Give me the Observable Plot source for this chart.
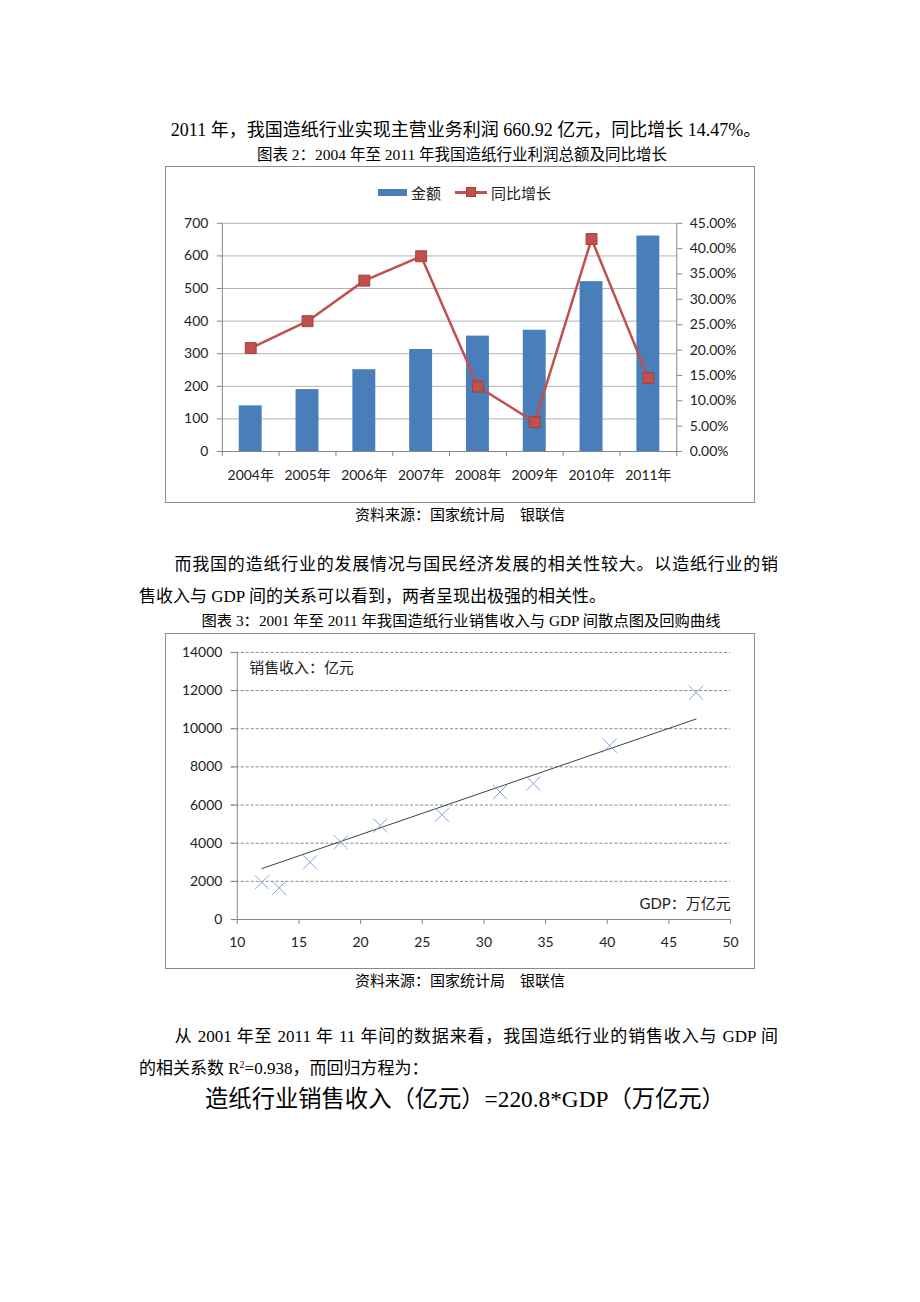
<!DOCTYPE html>
<html><head><meta charset="utf-8">
<script src="https://cdn.jsdelivr.net/npm/d3@7"></script>
<script src="https://cdn.jsdelivr.net/npm/@observablehq/plot@0.6"></script>
<style>
body{margin:0;background:#fff;width:920px;height:1302px;position:relative;overflow:hidden}
.t{position:absolute;white-space:nowrap;font-family:"Liberation Serif","Noto Sans CJK SC",serif;color:#000;line-height:1}
.j{white-space:normal;text-align:justify;text-align-last:justify;width:639px;left:139px}
.box{position:absolute;border:1px solid #8a8a8a;box-sizing:border-box;background:#fff}
.box svg{position:absolute;left:0;top:0}
.lg{position:absolute;font-family:"Noto Sans CJK SC",sans-serif;font-size:15px;line-height:1;color:#222}
sup{font-size:10px;vertical-align:6px;line-height:0}
</style></head>
<body>
<div class="t" style="left:0;width:932px;text-align:center;top:121px;font-size:18px">2011 年，我国造纸行业实现主营业务利润 660.92 亿元，同比增长 14.47%。</div>
<div class="t" style="left:0;width:924px;text-align:center;top:147px;font-size:15.5px">图表 2：2004 年至 2011 年我国造纸行业利润总额及同比增长</div>
<div class="box" id="box1" style="left:165px;top:166px;width:590px;height:337px"></div>
<div class="t" style="left:0;width:920px;text-align:center;top:508px;font-size:15px">资料来源：国家统计局　银联信</div>
<div class="t j" style="top:556px;font-size:17px">　　而我国的造纸行业的发展情况与国民经济发展的相关性较大。以造纸行业的销</div>
<div class="t" style="left:139px;top:588px;font-size:17px">售收入与 GDP 间的关系可以看到，两者呈现出极强的相关性。</div>
<div class="t" style="left:0;width:922px;text-align:center;top:613px;font-size:15.3px">图表 3：2001 年至 2011 年我国造纸行业销售收入与 GDP 间散点图及回购曲线</div>
<div class="box" id="box2" style="left:165px;top:633px;width:590px;height:336px"></div>
<div class="t" style="left:0;width:920px;text-align:center;top:974px;font-size:15px">资料来源：国家统计局　银联信</div>
<div class="t j" style="top:1028px;font-size:17px">　　从 2001 年至 2011 年 11 年间的数据来看，我国造纸行业的销售收入与 GDP 间</div>
<div class="t" style="left:139px;top:1060px;font-size:17px">的相关系数 R<sup>2</sup>=0.938，而回归方程为：</div>
<div class="t" style="left:6px;width:918px;text-align:center;top:1088px;font-size:23.3px">造纸行业销售收入（亿元）=220.8*GDP（万亿元）</div>
<script>
// ---- Chart 1 data ----
const years = ["2004年","2005年","2006年","2007年","2008年","2009年","2010年","2011年"];
const profit = [140, 190, 251, 313, 354, 372, 521, 661];
const growth = [20.4, 25.7, 33.7, 38.5, 12.8, 5.8, 41.9, 14.47];
const profitTicks = [0,100,200,300,400,500,600,700];
const growthTicks = [0,5,10,15,20,25,30,35,40,45];
const legend1 = ["金额","同比增长"];

// ---- Chart 2 data ----
const gdp = [12.0, 13.4, 15.9, 18.4, 21.6, 26.6, 31.3, 34.0, 40.2, 47.2];
const sales = [1950, 1660, 3000, 4050, 4930, 5490, 6680, 7130, 9120, 11890];
const trendGdp = [12.0, 47.2];
const trendSales = [2670, 10510];
const xTicks2 = [10,15,20,25,30,35,40,45,50];
const yTicks2 = [0,2000,4000,6000,8000,10000,12000,14000];
const yLabel2 = "销售收入：亿元";
const xLabel2 = "GDP：万亿元";

const AX = "#868686";
const GRID1 = "#B2B2B2";
const FONT = 'Lato,"Noto Sans CJK SC",sans-serif';

// Chart 1
const data1 = years.map((y,i)=>({year:y, profit:profit[i], growth:growth[i]}));
const W1 = 590, H1 = 337;
const M1 = {marginTop:56, marginRight:78, marginBottom:52, marginLeft:56};
const step1 = (W1 - M1.marginLeft - M1.marginRight) / years.length;
const xBand = {type:"band", domain:years, paddingInner:0.6, paddingOuter:0.3, align:0.5, label:null};

const p1 = Plot.plot({
  width:W1, height:H1, ...M1,
  style:{fontFamily:FONT, fontSize:"14px", color:"#222", background:"transparent", overflow:"visible"},
  x:xBand,
  y:{domain:[0,700], label:null},
  marks:[
    Plot.gridY(profitTicks.filter(d=>d>0), {stroke:GRID1, strokeOpacity:1}),
    Plot.barY(data1, {x:"year", y:"profit", fill:"#4A7EBB"}),
    Plot.frame({anchor:"left", stroke:AX}),
    Plot.frame({anchor:"bottom", stroke:AX}),
    Plot.axisY(profitTicks, {tickSize:5, tickPadding:9, stroke:AX, label:null}),
    Plot.axisX(years, {text:null, tickSize:5, dx:-step1/2, stroke:AX, label:null}),
    Plot.axisX([years[years.length-1]], {text:null, tickSize:5, dx:step1/2, stroke:AX, label:null}),
    Plot.axisX(years, {tickSize:0, tickPadding:19, label:null})
  ]
});
const p1b = Plot.plot({
  width:W1, height:H1, ...M1,
  style:{fontFamily:FONT, fontSize:"14px", color:"#222", background:"transparent", overflow:"visible"},
  x:{...xBand, axis:null},
  y:{domain:[0,45], label:null},
  marks:[
    Plot.frame({anchor:"right", stroke:AX}),
    Plot.axisY(growthTicks, {anchor:"right", tickSize:5, tickPadding:8, stroke:AX, tickFormat:d=>d.toFixed(2)+"%", label:null}),
    Plot.line(data1, {x:"year", y:"growth", stroke:"#C0504D", strokeWidth:2.5}),
    Plot.dot(data1, {x:"year", y:"growth", symbol:"square", r:6.2, fill:"#C0504D", stroke:"#A3403D", strokeWidth:1})
  ]
});
const box1 = document.getElementById("box1");
box1.appendChild(p1);
box1.appendChild(p1b);
// legend (HTML, inside the chart box)
const lg = document.createElement("div");
lg.innerHTML =
  `<div style="position:absolute;left:212px;top:22px;width:29px;height:7px;background:#4A7EBB"></div>
   <div class="lg" style="left:245px;top:18px">${legend1[0]}</div>
   <div style="position:absolute;left:289px;top:24px;width:32px;height:3px;background:#C0504D"></div>
   <div style="position:absolute;left:300px;top:20px;width:10px;height:10px;background:#C0504D;box-sizing:border-box;border:1px solid #A3403D"></div>
   <div class="lg" style="left:325px;top:18px">${legend1[1]}</div>`;
box1.appendChild(lg);

// Chart 2
const pts = gdp.map((g,i)=>({gdp:g, sales:sales[i]}));
const trend = trendGdp.map((g,i)=>({gdp:g, sales:trendSales[i]}));
const p2 = Plot.plot({
  width:590, height:336, marginTop:18, marginRight:24, marginBottom:50, marginLeft:71,
  style:{fontFamily:FONT, fontSize:"14px", color:"#222", background:"transparent", overflow:"visible"},
  x:{domain:[10,50], label:null},
  y:{domain:[0,14000], label:null},
  marks:[
    Plot.gridY(yTicks2.filter(d=>d>0), {stroke:AX, strokeOpacity:1, strokeDasharray:"3,2", x1:10, x2:50, insetLeft:-6}),
    Plot.frame({anchor:"left", stroke:AX}),
    Plot.frame({anchor:"bottom", stroke:AX}),
    Plot.axisY(yTicks2, {tickSize:6, tickPadding:9, stroke:AX, tickFormat:d=>String(d), label:null}),
    Plot.axisX(xTicks2, {tickSize:5, tickPadding:13, stroke:AX, tickFormat:d=>String(d), label:null}),
    Plot.line(trend, {x:"gdp", y:"sales", stroke:"#404040", strokeWidth:1}),
    Plot.dot(pts, {x:"gdp", y:"sales", symbol:"times", r:6.5, stroke:"#7EA6DA", strokeWidth:1}),
    Plot.text([yLabel2], {frameAnchor:"top-left", dx:12, dy:10, fontSize:15, fontFamily:'"Noto Sans CJK SC",sans-serif', fill:"#222"}),
    Plot.text([xLabel2], {frameAnchor:"bottom-right", dx:0, dy:-11, fontSize:15, fontFamily:'Lato,"Noto Sans CJK SC",sans-serif', fill:"#222"})
  ]
});
document.getElementById("box2").appendChild(p2);
</script>
</body></html>
